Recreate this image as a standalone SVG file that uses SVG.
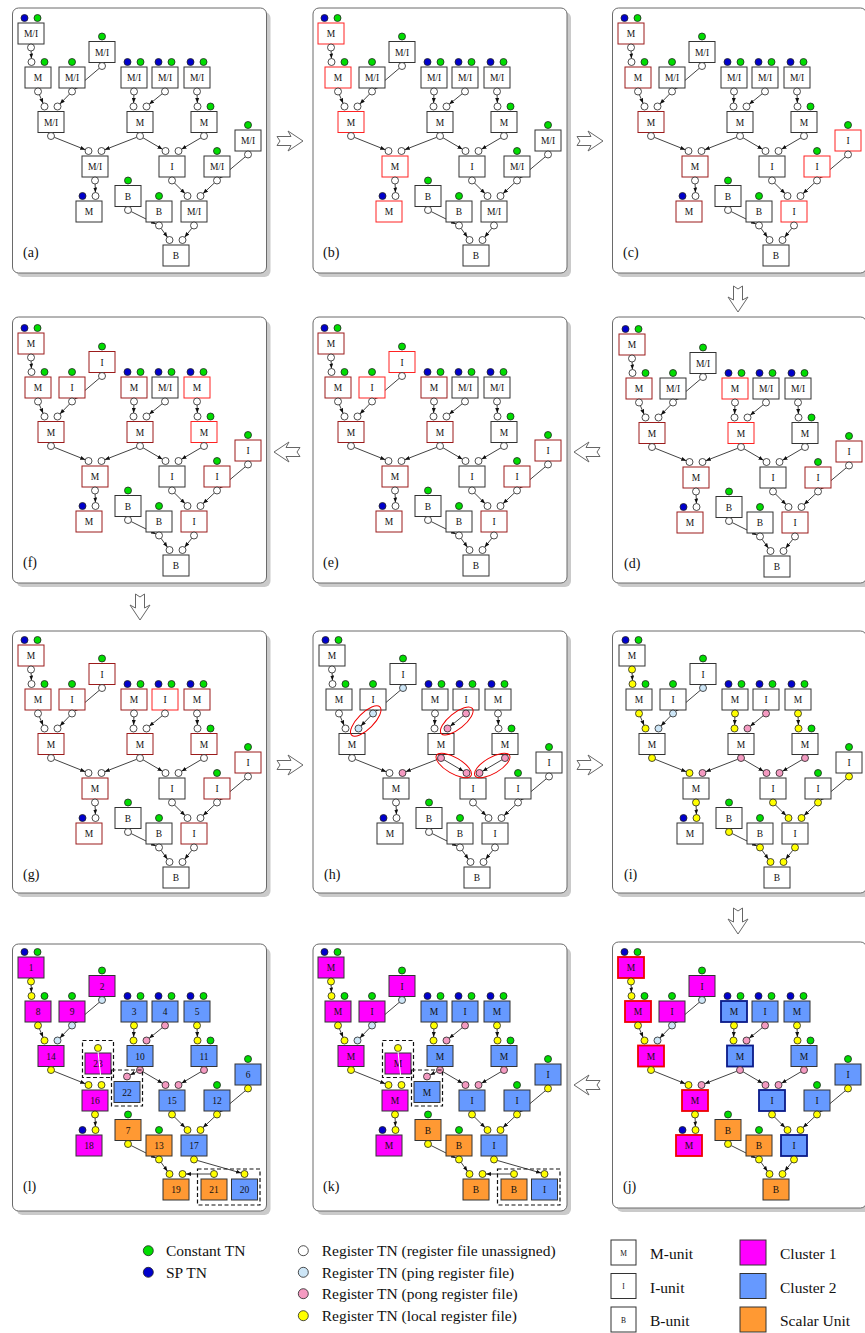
<svg xmlns="http://www.w3.org/2000/svg" width="865" height="1333" viewBox="0 0 865 1333">
<style>
text{font-family:"Liberation Serif","Times New Roman",serif;fill:#111}
.P{fill:#fff;stroke:#6a6a6a;stroke-width:1}
.S{fill:#cacaca}
.T text{font-size:9.5px;text-anchor:middle}
.T .lab{font-size:14px;text-anchor:start}
.T g rect{width:26px;height:21px;fill:#fff;stroke:#333;stroke-width:1}
.T circle{r:3.5px;fill:#fff;stroke:#222;stroke-width:.8}
.T .g{fill:#0d0}
.T .k{fill:#00c}
.T .y{fill:#ff0}
.T .p{fill:#f49ac1}
.T .b{fill:#cde6f7}
.T .r{stroke:#f22}
.T .d{stroke:#9b1b1b}
.T .R{stroke:#e00;stroke-width:1.8}
.T .D{stroke:#0b1a88;stroke-width:1.8}
.T .m{fill:#f0f}
.T .c{fill:#69f}
.T .s{fill:#f93}
.E line{stroke:#111;stroke-width:.8;marker-end:url(#ah)}
.dash{fill:none;stroke:#111;stroke-width:1.2;stroke-dasharray:4 2.5}
.ell{fill:none;stroke:#e00;stroke-width:1}
.arr{fill:#fff;stroke:#666;stroke-width:1;stroke-linejoin:round}
.lg{font-size:15.5px}
.lc{stroke:#222;stroke-width:.8}
</style>
<defs>
<marker id="ah" viewBox="0 0 5 4" refX="5" refY="2" markerWidth="5" markerHeight="4" markerUnits="userSpaceOnUse" orient="auto"><path d="M0,0L5,2L0,4z" fill="#111"/></marker>
<g id="Ec" class="E">
<line x1="19.12" y1="43" x2="19.38" y2="50.5"/>
<line x1="27.39" y1="86.71" x2="31.11" y2="95.29"/>
<line x1="87.33" y1="60.27" x2="62.67" y2="81.23"/>
<line x1="57.57" y1="86.02" x2="47.93" y2="95.98"/>
<line x1="121.88" y1="87" x2="121.62" y2="95"/>
<line x1="150.28" y1="85.7" x2="137.22" y2="96.3"/>
<line x1="185.12" y1="87" x2="185.38" y2="95"/>
<line x1="42.25" y1="129.3" x2="73.25" y2="141.7"/>
<line x1="131.02" y1="129.77" x2="150.48" y2="141.23"/>
<line x1="188.98" y1="129.77" x2="169.52" y2="141.23"/>
<line x1="233.32" y1="148.75" x2="207.68" y2="170.25"/>
<line x1="202.45" y1="174.9" x2="191.05" y2="185.6"/>
<line x1="83.11" y1="176" x2="83.39" y2="184.5"/>
<line x1="162.47" y1="174.97" x2="173.03" y2="185.53"/>
<line x1="119.13" y1="203.56" x2="143.87" y2="215.94"/>
<line x1="149.05" y1="220.33" x2="155.45" y2="229.17"/>
</g>
<g id="Ex" class="E">
<line x1="124.74" y1="129.27" x2="92.76" y2="141.73"/>
<line x1="179.83" y1="220.24" x2="172.67" y2="229.26"/>
</g>
<g id="Ey" class="E">
<line x1="124.87" y1="129.57" x2="118.13" y2="132.93"/>
<line x1="185.36" y1="218.47" x2="229.14" y2="231.03"/>
<line x1="198.5" y1="232" x2="174" y2="232"/>
</g>
<path id="arw" d="M-13,-4.5H1L-2,-10L13,0L-2,10L1,4.5H-13L-10,0Z"/>
</defs>

<g id="panels">
<rect class="S" x="16.5" y="12" width="254" height="265" rx="6"/><rect class="P" x="12.5" y="8" width="254" height="265" rx="6"/>
<rect class="S" x="317" y="12" width="254" height="265" rx="6"/><rect class="P" x="313" y="8" width="254" height="265" rx="6"/>
<rect class="S" x="616.5" y="12" width="254" height="265" rx="6"/><rect class="P" x="612.5" y="8" width="254" height="265" rx="6"/>
<rect class="S" x="16.5" y="321" width="254" height="266" rx="6"/><rect class="P" x="12.5" y="317" width="254" height="266" rx="6"/>
<rect class="S" x="317" y="321" width="254" height="266" rx="6"/><rect class="P" x="313" y="317" width="254" height="266" rx="6"/>
<rect class="S" x="616.5" y="321" width="254" height="266" rx="6"/><rect class="P" x="612.5" y="317" width="254" height="266" rx="6"/>
<rect class="S" x="16.5" y="635" width="254" height="262" rx="6"/><rect class="P" x="12.5" y="631" width="254" height="262" rx="6"/>
<rect class="S" x="317" y="635" width="254" height="262" rx="6"/><rect class="P" x="313" y="631" width="254" height="262" rx="6"/>
<rect class="S" x="616.5" y="635" width="254" height="262" rx="6"/><rect class="P" x="612.5" y="631" width="254" height="262" rx="6"/>
<rect class="S" x="16.5" y="948" width="254" height="267" rx="6"/><rect class="P" x="12.5" y="944" width="254" height="267" rx="6"/>
<rect class="S" x="317" y="948" width="254" height="267" rx="6"/><rect class="P" x="313" y="944" width="254" height="267" rx="6"/>
<rect class="S" x="616.5" y="946" width="254" height="266" rx="6"/><rect class="P" x="612.5" y="942" width="254" height="266" rx="6"/>
</g>

<g id="arrows" class="arr">
<use href="#arw" transform="translate(290,141)"/>
<use href="#arw" transform="translate(590,141)"/>
<use href="#arw" transform="translate(738,299) rotate(90)"/>
<use href="#arw" transform="translate(587,452) rotate(180)"/>
<use href="#arw" transform="translate(287,452) rotate(180)"/>
<use href="#arw" transform="translate(140,607) rotate(90)"/>
<use href="#arw" transform="translate(290,765)"/>
<use href="#arw" transform="translate(590,765)"/>
<use href="#arw" transform="translate(738,921) rotate(90)"/>
<use href="#arw" transform="translate(587,1085) rotate(180)"/>
</g>

<!-- (a) -->
<g id="pa" class="T" transform="translate(12,8)">
<g id="a-conn"><use href="#Ec"/><use href="#Ex"/></g>
<g id="a1" transform="translate(6,15)"><rect/><text x="13" y="14">M/I</text><circle class="k" cx="6.5" cy="-5"/><circle class="g" cx="19.5" cy="-5"/><circle cx="13" cy="24.5"/></g>
<g id="a2" transform="translate(13,59)"><rect/><text x="13" y="14">M</text><circle cx="6.5" cy="-5"/><circle class="g" cx="19.5" cy="-5"/><circle cx="13" cy="24.5"/></g>
<g id="a3" transform="translate(47,59)"><rect/><text x="13" y="14">M/I</text><circle class="g" cx="13" cy="-5"/><circle cx="13" cy="24.5"/></g>
<g id="a4" transform="translate(77,33.5)"><rect/><text x="13" y="14">M/I</text><circle class="g" cx="13" cy="-5"/><circle cx="13" cy="24.5"/></g>
<g id="a5" transform="translate(109,59)"><rect/><text x="13" y="14">M/I</text><circle class="k" cx="6.5" cy="-5"/><circle class="g" cx="19.5" cy="-5"/><circle cx="13" cy="24.5"/></g>
<g id="a6" transform="translate(140,59)"><rect/><text x="13" y="14">M/I</text><circle class="k" cx="6.5" cy="-5"/><circle class="g" cx="19.5" cy="-5"/><circle cx="13" cy="24.5"/></g>
<g id="a7" transform="translate(172,59)"><rect/><text x="13" y="14">M/I</text><circle class="k" cx="6.5" cy="-5"/><circle class="g" cx="19.5" cy="-5"/><circle cx="13" cy="24.5"/></g>
<g id="a8" transform="translate(26,103.5)"><rect/><text x="13" y="14">M/I</text><circle cx="6.5" cy="-5"/><circle cx="19.5" cy="-5"/><circle cx="13" cy="24.5"/></g>
<g id="a9" transform="translate(115,103.5)"><rect/><text x="13" y="14">M</text><circle cx="6.5" cy="-5"/><circle cx="19.5" cy="-5"/><circle cx="13" cy="24.5"/></g>
<g id="a10" transform="translate(179,103.5)"><rect/><text x="13" y="14">M</text><circle cx="6.5" cy="-5"/><circle class="g" cx="19.5" cy="-5"/><circle cx="13" cy="24.5"/></g>
<g id="a11" transform="translate(223,122)"><rect/><text x="13" y="14">M/I</text><circle class="g" cx="13" cy="-5"/><circle cx="13" cy="24.5"/></g>
<g id="a12" transform="translate(70,148)"><rect/><text x="13" y="14">M/I</text><circle cx="6.5" cy="-5"/><circle cx="19.5" cy="-5"/><circle cx="13" cy="24.5"/></g>
<g id="a13" transform="translate(147,148)"><rect/><text x="13" y="14">I</text><circle cx="6.5" cy="-5"/><circle cx="19.5" cy="-5"/><circle cx="13" cy="24.5"/></g>
<g id="a14" transform="translate(192,148)"><rect/><text x="13" y="14">M/I</text><circle class="g" cx="13" cy="-5"/><circle cx="13" cy="24.5"/></g>
<g id="a15" transform="translate(64,193)"><rect/><text x="13" y="14">M</text><circle class="k" cx="6.5" cy="-5"/><circle cx="19.5" cy="-5"/></g>
<g id="a16" transform="translate(103,177.5)"><rect/><text x="13" y="14">B</text><circle class="g" cx="13" cy="-5"/><circle cx="13" cy="24.5"/></g>
<g id="a17" transform="translate(134,193)"><rect/><text x="13" y="14">B</text><circle class="g" cx="13" cy="-5"/><circle cx="13" cy="24.5"/></g>
<g id="a18" transform="translate(169,193)"><rect/><text x="13" y="14">M/I</text><circle cx="6.5" cy="-5"/><circle cx="19.5" cy="-5"/><circle cx="13" cy="24.5"/></g>
<g id="a19" transform="translate(151,237)"><rect/><text x="13" y="14">B</text><circle cx="6.5" cy="-5"/><circle cx="19.5" cy="-5"/></g>
<text class="lab" x="11" y="249">(a)</text>
</g>

<!-- (b) -->
<g id="pb" class="T" transform="translate(312,8)">
<g id="b-conn"><use href="#Ec"/><use href="#Ex"/></g>
<g id="b1" transform="translate(6,15)"><rect class="r"/><text x="13" y="14">M</text><circle class="k" cx="6.5" cy="-5"/><circle class="g" cx="19.5" cy="-5"/><circle cx="13" cy="24.5"/></g>
<g id="b2" transform="translate(13,59)"><rect class="r"/><text x="13" y="14">M</text><circle cx="6.5" cy="-5"/><circle class="g" cx="19.5" cy="-5"/><circle cx="13" cy="24.5"/></g>
<g id="b3" transform="translate(47,59)"><rect/><text x="13" y="14">M/I</text><circle class="g" cx="13" cy="-5"/><circle cx="13" cy="24.5"/></g>
<g id="b4" transform="translate(77,33.5)"><rect/><text x="13" y="14">M/I</text><circle class="g" cx="13" cy="-5"/><circle cx="13" cy="24.5"/></g>
<g id="b5" transform="translate(109,59)"><rect/><text x="13" y="14">M/I</text><circle class="k" cx="6.5" cy="-5"/><circle class="g" cx="19.5" cy="-5"/><circle cx="13" cy="24.5"/></g>
<g id="b6" transform="translate(140,59)"><rect/><text x="13" y="14">M/I</text><circle class="k" cx="6.5" cy="-5"/><circle class="g" cx="19.5" cy="-5"/><circle cx="13" cy="24.5"/></g>
<g id="b7" transform="translate(172,59)"><rect/><text x="13" y="14">M/I</text><circle class="k" cx="6.5" cy="-5"/><circle class="g" cx="19.5" cy="-5"/><circle cx="13" cy="24.5"/></g>
<g id="b8" transform="translate(26,103.5)"><rect class="r"/><text x="13" y="14">M</text><circle cx="6.5" cy="-5"/><circle cx="19.5" cy="-5"/><circle cx="13" cy="24.5"/></g>
<g id="b9" transform="translate(115,103.5)"><rect/><text x="13" y="14">M</text><circle cx="6.5" cy="-5"/><circle cx="19.5" cy="-5"/><circle cx="13" cy="24.5"/></g>
<g id="b10" transform="translate(179,103.5)"><rect/><text x="13" y="14">M</text><circle cx="6.5" cy="-5"/><circle class="g" cx="19.5" cy="-5"/><circle cx="13" cy="24.5"/></g>
<g id="b11" transform="translate(223,122)"><rect/><text x="13" y="14">M/I</text><circle class="g" cx="13" cy="-5"/><circle cx="13" cy="24.5"/></g>
<g id="b12" transform="translate(70,148)"><rect class="r"/><text x="13" y="14">M</text><circle cx="6.5" cy="-5"/><circle cx="19.5" cy="-5"/><circle cx="13" cy="24.5"/></g>
<g id="b13" transform="translate(147,148)"><rect/><text x="13" y="14">I</text><circle cx="6.5" cy="-5"/><circle cx="19.5" cy="-5"/><circle cx="13" cy="24.5"/></g>
<g id="b14" transform="translate(192,148)"><rect/><text x="13" y="14">M/I</text><circle class="g" cx="13" cy="-5"/><circle cx="13" cy="24.5"/></g>
<g id="b15" transform="translate(64,193)"><rect class="r"/><text x="13" y="14">M</text><circle class="k" cx="6.5" cy="-5"/><circle cx="19.5" cy="-5"/></g>
<g id="b16" transform="translate(103,177.5)"><rect/><text x="13" y="14">B</text><circle class="g" cx="13" cy="-5"/><circle cx="13" cy="24.5"/></g>
<g id="b17" transform="translate(134,193)"><rect/><text x="13" y="14">B</text><circle class="g" cx="13" cy="-5"/><circle cx="13" cy="24.5"/></g>
<g id="b18" transform="translate(169,193)"><rect/><text x="13" y="14">M/I</text><circle cx="6.5" cy="-5"/><circle cx="19.5" cy="-5"/><circle cx="13" cy="24.5"/></g>
<g id="b19" transform="translate(151,237)"><rect/><text x="13" y="14">B</text><circle cx="6.5" cy="-5"/><circle cx="19.5" cy="-5"/></g>
<text class="lab" x="11" y="249">(b)</text>
</g>

<!-- (c) -->
<g id="pc" class="T" transform="translate(612,8)">
<g id="c-conn"><use href="#Ec"/><use href="#Ex"/></g>
<g id="c1" transform="translate(6,15)"><rect class="d"/><text x="13" y="14">M</text><circle class="k" cx="6.5" cy="-5"/><circle class="g" cx="19.5" cy="-5"/><circle cx="13" cy="24.5"/></g>
<g id="c2" transform="translate(13,59)"><rect class="d"/><text x="13" y="14">M</text><circle cx="6.5" cy="-5"/><circle class="g" cx="19.5" cy="-5"/><circle cx="13" cy="24.5"/></g>
<g id="c3" transform="translate(47,59)"><rect/><text x="13" y="14">M/I</text><circle class="g" cx="13" cy="-5"/><circle cx="13" cy="24.5"/></g>
<g id="c4" transform="translate(77,33.5)"><rect/><text x="13" y="14">M/I</text><circle class="g" cx="13" cy="-5"/><circle cx="13" cy="24.5"/></g>
<g id="c5" transform="translate(109,59)"><rect/><text x="13" y="14">M/I</text><circle class="k" cx="6.5" cy="-5"/><circle class="g" cx="19.5" cy="-5"/><circle cx="13" cy="24.5"/></g>
<g id="c6" transform="translate(140,59)"><rect/><text x="13" y="14">M/I</text><circle class="k" cx="6.5" cy="-5"/><circle class="g" cx="19.5" cy="-5"/><circle cx="13" cy="24.5"/></g>
<g id="c7" transform="translate(172,59)"><rect/><text x="13" y="14">M/I</text><circle class="k" cx="6.5" cy="-5"/><circle class="g" cx="19.5" cy="-5"/><circle cx="13" cy="24.5"/></g>
<g id="c8" transform="translate(26,103.5)"><rect class="d"/><text x="13" y="14">M</text><circle cx="6.5" cy="-5"/><circle cx="19.5" cy="-5"/><circle cx="13" cy="24.5"/></g>
<g id="c9" transform="translate(115,103.5)"><rect/><text x="13" y="14">M</text><circle cx="6.5" cy="-5"/><circle cx="19.5" cy="-5"/><circle cx="13" cy="24.5"/></g>
<g id="c10" transform="translate(179,103.5)"><rect/><text x="13" y="14">M</text><circle cx="6.5" cy="-5"/><circle class="g" cx="19.5" cy="-5"/><circle cx="13" cy="24.5"/></g>
<g id="c11" transform="translate(223,122)"><rect class="r"/><text x="13" y="14">I</text><circle class="g" cx="13" cy="-5"/><circle cx="13" cy="24.5"/></g>
<g id="c12" transform="translate(70,148)"><rect class="d"/><text x="13" y="14">M</text><circle cx="6.5" cy="-5"/><circle cx="19.5" cy="-5"/><circle cx="13" cy="24.5"/></g>
<g id="c13" transform="translate(147,148)"><rect/><text x="13" y="14">I</text><circle cx="6.5" cy="-5"/><circle cx="19.5" cy="-5"/><circle cx="13" cy="24.5"/></g>
<g id="c14" transform="translate(192,148)"><rect class="r"/><text x="13" y="14">I</text><circle class="g" cx="13" cy="-5"/><circle cx="13" cy="24.5"/></g>
<g id="c15" transform="translate(64,193)"><rect class="d"/><text x="13" y="14">M</text><circle class="k" cx="6.5" cy="-5"/><circle cx="19.5" cy="-5"/></g>
<g id="c16" transform="translate(103,177.5)"><rect/><text x="13" y="14">B</text><circle class="g" cx="13" cy="-5"/><circle cx="13" cy="24.5"/></g>
<g id="c17" transform="translate(134,193)"><rect/><text x="13" y="14">B</text><circle class="g" cx="13" cy="-5"/><circle cx="13" cy="24.5"/></g>
<g id="c18" transform="translate(169,193)"><rect class="r"/><text x="13" y="14">I</text><circle cx="6.5" cy="-5"/><circle cx="19.5" cy="-5"/><circle cx="13" cy="24.5"/></g>
<g id="c19" transform="translate(151,237)"><rect/><text x="13" y="14">B</text><circle cx="6.5" cy="-5"/><circle cx="19.5" cy="-5"/></g>
<text class="lab" x="11" y="249">(c)</text>
</g>

<!-- (d) -->
<g id="pd" class="T" transform="translate(613,319)">
<g id="d-conn"><use href="#Ec"/><use href="#Ex"/></g>
<g id="d1" transform="translate(6,15)"><rect class="d"/><text x="13" y="14">M</text><circle class="k" cx="6.5" cy="-5"/><circle class="g" cx="19.5" cy="-5"/><circle cx="13" cy="24.5"/></g>
<g id="d2" transform="translate(13,59)"><rect class="d"/><text x="13" y="14">M</text><circle cx="6.5" cy="-5"/><circle class="g" cx="19.5" cy="-5"/><circle cx="13" cy="24.5"/></g>
<g id="d3" transform="translate(47,59)"><rect/><text x="13" y="14">M/I</text><circle class="g" cx="13" cy="-5"/><circle cx="13" cy="24.5"/></g>
<g id="d4" transform="translate(77,33.5)"><rect/><text x="13" y="14">M/I</text><circle class="g" cx="13" cy="-5"/><circle cx="13" cy="24.5"/></g>
<g id="d5" transform="translate(109,59)"><rect class="r"/><text x="13" y="14">M</text><circle class="k" cx="6.5" cy="-5"/><circle class="g" cx="19.5" cy="-5"/><circle cx="13" cy="24.5"/></g>
<g id="d6" transform="translate(140,59)"><rect/><text x="13" y="14">M/I</text><circle class="k" cx="6.5" cy="-5"/><circle class="g" cx="19.5" cy="-5"/><circle cx="13" cy="24.5"/></g>
<g id="d7" transform="translate(172,59)"><rect/><text x="13" y="14">M/I</text><circle class="k" cx="6.5" cy="-5"/><circle class="g" cx="19.5" cy="-5"/><circle cx="13" cy="24.5"/></g>
<g id="d8" transform="translate(26,103.5)"><rect class="d"/><text x="13" y="14">M</text><circle cx="6.5" cy="-5"/><circle cx="19.5" cy="-5"/><circle cx="13" cy="24.5"/></g>
<g id="d9" transform="translate(115,103.5)"><rect class="r"/><text x="13" y="14">M</text><circle cx="6.5" cy="-5"/><circle cx="19.5" cy="-5"/><circle cx="13" cy="24.5"/></g>
<g id="d10" transform="translate(179,103.5)"><rect/><text x="13" y="14">M</text><circle cx="6.5" cy="-5"/><circle class="g" cx="19.5" cy="-5"/><circle cx="13" cy="24.5"/></g>
<g id="d11" transform="translate(223,122)"><rect class="d"/><text x="13" y="14">I</text><circle class="g" cx="13" cy="-5"/><circle cx="13" cy="24.5"/></g>
<g id="d12" transform="translate(70,148)"><rect class="d"/><text x="13" y="14">M</text><circle cx="6.5" cy="-5"/><circle cx="19.5" cy="-5"/><circle cx="13" cy="24.5"/></g>
<g id="d13" transform="translate(147,148)"><rect/><text x="13" y="14">I</text><circle cx="6.5" cy="-5"/><circle cx="19.5" cy="-5"/><circle cx="13" cy="24.5"/></g>
<g id="d14" transform="translate(192,148)"><rect class="d"/><text x="13" y="14">I</text><circle class="g" cx="13" cy="-5"/><circle cx="13" cy="24.5"/></g>
<g id="d15" transform="translate(64,193)"><rect class="d"/><text x="13" y="14">M</text><circle class="k" cx="6.5" cy="-5"/><circle cx="19.5" cy="-5"/></g>
<g id="d16" transform="translate(103,177.5)"><rect/><text x="13" y="14">B</text><circle class="g" cx="13" cy="-5"/><circle cx="13" cy="24.5"/></g>
<g id="d17" transform="translate(134,193)"><rect/><text x="13" y="14">B</text><circle class="g" cx="13" cy="-5"/><circle cx="13" cy="24.5"/></g>
<g id="d18" transform="translate(169,193)"><rect class="d"/><text x="13" y="14">I</text><circle cx="6.5" cy="-5"/><circle cx="19.5" cy="-5"/><circle cx="13" cy="24.5"/></g>
<g id="d19" transform="translate(151,237)"><rect/><text x="13" y="14">B</text><circle cx="6.5" cy="-5"/><circle cx="19.5" cy="-5"/></g>
<text class="lab" x="11" y="249">(d)</text>
</g>

<!-- (e) -->
<g id="pe" class="T" transform="translate(312,318)">
<g id="e-conn"><use href="#Ec"/><use href="#Ex"/></g>
<g id="e1" transform="translate(6,15)"><rect class="d"/><text x="13" y="14">M</text><circle class="k" cx="6.5" cy="-5"/><circle class="g" cx="19.5" cy="-5"/><circle cx="13" cy="24.5"/></g>
<g id="e2" transform="translate(13,59)"><rect class="d"/><text x="13" y="14">M</text><circle cx="6.5" cy="-5"/><circle class="g" cx="19.5" cy="-5"/><circle cx="13" cy="24.5"/></g>
<g id="e3" transform="translate(47,59)"><rect class="r"/><text x="13" y="14">I</text><circle class="g" cx="13" cy="-5"/><circle cx="13" cy="24.5"/></g>
<g id="e4" transform="translate(77,33.5)"><rect class="r"/><text x="13" y="14">I</text><circle class="g" cx="13" cy="-5"/><circle cx="13" cy="24.5"/></g>
<g id="e5" transform="translate(109,59)"><rect class="d"/><text x="13" y="14">M</text><circle class="k" cx="6.5" cy="-5"/><circle class="g" cx="19.5" cy="-5"/><circle cx="13" cy="24.5"/></g>
<g id="e6" transform="translate(140,59)"><rect/><text x="13" y="14">M/I</text><circle class="k" cx="6.5" cy="-5"/><circle class="g" cx="19.5" cy="-5"/><circle cx="13" cy="24.5"/></g>
<g id="e7" transform="translate(172,59)"><rect/><text x="13" y="14">M/I</text><circle class="k" cx="6.5" cy="-5"/><circle class="g" cx="19.5" cy="-5"/><circle cx="13" cy="24.5"/></g>
<g id="e8" transform="translate(26,103.5)"><rect class="d"/><text x="13" y="14">M</text><circle cx="6.5" cy="-5"/><circle cx="19.5" cy="-5"/><circle cx="13" cy="24.5"/></g>
<g id="e9" transform="translate(115,103.5)"><rect class="d"/><text x="13" y="14">M</text><circle cx="6.5" cy="-5"/><circle cx="19.5" cy="-5"/><circle cx="13" cy="24.5"/></g>
<g id="e10" transform="translate(179,103.5)"><rect/><text x="13" y="14">M</text><circle cx="6.5" cy="-5"/><circle class="g" cx="19.5" cy="-5"/><circle cx="13" cy="24.5"/></g>
<g id="e11" transform="translate(223,122)"><rect class="d"/><text x="13" y="14">I</text><circle class="g" cx="13" cy="-5"/><circle cx="13" cy="24.5"/></g>
<g id="e12" transform="translate(70,148)"><rect class="d"/><text x="13" y="14">M</text><circle cx="6.5" cy="-5"/><circle cx="19.5" cy="-5"/><circle cx="13" cy="24.5"/></g>
<g id="e13" transform="translate(147,148)"><rect/><text x="13" y="14">I</text><circle cx="6.5" cy="-5"/><circle cx="19.5" cy="-5"/><circle cx="13" cy="24.5"/></g>
<g id="e14" transform="translate(192,148)"><rect class="d"/><text x="13" y="14">I</text><circle class="g" cx="13" cy="-5"/><circle cx="13" cy="24.5"/></g>
<g id="e15" transform="translate(64,193)"><rect class="d"/><text x="13" y="14">M</text><circle class="k" cx="6.5" cy="-5"/><circle cx="19.5" cy="-5"/></g>
<g id="e16" transform="translate(103,177.5)"><rect/><text x="13" y="14">B</text><circle class="g" cx="13" cy="-5"/><circle cx="13" cy="24.5"/></g>
<g id="e17" transform="translate(134,193)"><rect/><text x="13" y="14">B</text><circle class="g" cx="13" cy="-5"/><circle cx="13" cy="24.5"/></g>
<g id="e18" transform="translate(169,193)"><rect class="d"/><text x="13" y="14">I</text><circle cx="6.5" cy="-5"/><circle cx="19.5" cy="-5"/><circle cx="13" cy="24.5"/></g>
<g id="e19" transform="translate(151,237)"><rect/><text x="13" y="14">B</text><circle cx="6.5" cy="-5"/><circle cx="19.5" cy="-5"/></g>
<text class="lab" x="11" y="249">(e)</text>
</g>

<!-- (f) -->
<g id="pf" class="T" transform="translate(12,318)">
<g id="f-conn"><use href="#Ec"/><use href="#Ex"/></g>
<g id="f1" transform="translate(6,15)"><rect class="d"/><text x="13" y="14">M</text><circle class="k" cx="6.5" cy="-5"/><circle class="g" cx="19.5" cy="-5"/><circle cx="13" cy="24.5"/></g>
<g id="f2" transform="translate(13,59)"><rect class="d"/><text x="13" y="14">M</text><circle cx="6.5" cy="-5"/><circle class="g" cx="19.5" cy="-5"/><circle cx="13" cy="24.5"/></g>
<g id="f3" transform="translate(47,59)"><rect class="d"/><text x="13" y="14">I</text><circle class="g" cx="13" cy="-5"/><circle cx="13" cy="24.5"/></g>
<g id="f4" transform="translate(77,33.5)"><rect class="d"/><text x="13" y="14">I</text><circle class="g" cx="13" cy="-5"/><circle cx="13" cy="24.5"/></g>
<g id="f5" transform="translate(109,59)"><rect class="d"/><text x="13" y="14">M</text><circle class="k" cx="6.5" cy="-5"/><circle class="g" cx="19.5" cy="-5"/><circle cx="13" cy="24.5"/></g>
<g id="f6" transform="translate(140,59)"><rect/><text x="13" y="14">M/I</text><circle class="k" cx="6.5" cy="-5"/><circle class="g" cx="19.5" cy="-5"/><circle cx="13" cy="24.5"/></g>
<g id="f7" transform="translate(172,59)"><rect class="r"/><text x="13" y="14">M</text><circle class="k" cx="6.5" cy="-5"/><circle class="g" cx="19.5" cy="-5"/><circle cx="13" cy="24.5"/></g>
<g id="f8" transform="translate(26,103.5)"><rect class="d"/><text x="13" y="14">M</text><circle cx="6.5" cy="-5"/><circle cx="19.5" cy="-5"/><circle cx="13" cy="24.5"/></g>
<g id="f9" transform="translate(115,103.5)"><rect class="d"/><text x="13" y="14">M</text><circle cx="6.5" cy="-5"/><circle cx="19.5" cy="-5"/><circle cx="13" cy="24.5"/></g>
<g id="f10" transform="translate(179,103.5)"><rect class="r"/><text x="13" y="14">M</text><circle cx="6.5" cy="-5"/><circle class="g" cx="19.5" cy="-5"/><circle cx="13" cy="24.5"/></g>
<g id="f11" transform="translate(223,122)"><rect class="d"/><text x="13" y="14">I</text><circle class="g" cx="13" cy="-5"/><circle cx="13" cy="24.5"/></g>
<g id="f12" transform="translate(70,148)"><rect class="d"/><text x="13" y="14">M</text><circle cx="6.5" cy="-5"/><circle cx="19.5" cy="-5"/><circle cx="13" cy="24.5"/></g>
<g id="f13" transform="translate(147,148)"><rect/><text x="13" y="14">I</text><circle cx="6.5" cy="-5"/><circle cx="19.5" cy="-5"/><circle cx="13" cy="24.5"/></g>
<g id="f14" transform="translate(192,148)"><rect class="d"/><text x="13" y="14">I</text><circle class="g" cx="13" cy="-5"/><circle cx="13" cy="24.5"/></g>
<g id="f15" transform="translate(64,193)"><rect class="d"/><text x="13" y="14">M</text><circle class="k" cx="6.5" cy="-5"/><circle cx="19.5" cy="-5"/></g>
<g id="f16" transform="translate(103,177.5)"><rect/><text x="13" y="14">B</text><circle class="g" cx="13" cy="-5"/><circle cx="13" cy="24.5"/></g>
<g id="f17" transform="translate(134,193)"><rect/><text x="13" y="14">B</text><circle class="g" cx="13" cy="-5"/><circle cx="13" cy="24.5"/></g>
<g id="f18" transform="translate(169,193)"><rect class="d"/><text x="13" y="14">I</text><circle cx="6.5" cy="-5"/><circle cx="19.5" cy="-5"/><circle cx="13" cy="24.5"/></g>
<g id="f19" transform="translate(151,237)"><rect/><text x="13" y="14">B</text><circle cx="6.5" cy="-5"/><circle cx="19.5" cy="-5"/></g>
<text class="lab" x="11" y="249">(f)</text>
</g>

<!-- (g) -->
<g id="pg" class="T" transform="translate(12,630)">
<g id="g-conn"><use href="#Ec"/><use href="#Ex"/></g>
<g id="g1" transform="translate(6,15)"><rect class="d"/><text x="13" y="14">M</text><circle class="k" cx="6.5" cy="-5"/><circle class="g" cx="19.5" cy="-5"/><circle cx="13" cy="24.5"/></g>
<g id="g2" transform="translate(13,59)"><rect class="d"/><text x="13" y="14">M</text><circle cx="6.5" cy="-5"/><circle class="g" cx="19.5" cy="-5"/><circle cx="13" cy="24.5"/></g>
<g id="g3" transform="translate(47,59)"><rect class="d"/><text x="13" y="14">I</text><circle class="g" cx="13" cy="-5"/><circle cx="13" cy="24.5"/></g>
<g id="g4" transform="translate(77,33.5)"><rect class="d"/><text x="13" y="14">I</text><circle class="g" cx="13" cy="-5"/><circle cx="13" cy="24.5"/></g>
<g id="g5" transform="translate(109,59)"><rect class="d"/><text x="13" y="14">M</text><circle class="k" cx="6.5" cy="-5"/><circle class="g" cx="19.5" cy="-5"/><circle cx="13" cy="24.5"/></g>
<g id="g6" transform="translate(140,59)"><rect class="r"/><text x="13" y="14">I</text><circle class="k" cx="6.5" cy="-5"/><circle class="g" cx="19.5" cy="-5"/><circle cx="13" cy="24.5"/></g>
<g id="g7" transform="translate(172,59)"><rect class="d"/><text x="13" y="14">M</text><circle class="k" cx="6.5" cy="-5"/><circle class="g" cx="19.5" cy="-5"/><circle cx="13" cy="24.5"/></g>
<g id="g8" transform="translate(26,103.5)"><rect class="d"/><text x="13" y="14">M</text><circle cx="6.5" cy="-5"/><circle cx="19.5" cy="-5"/><circle cx="13" cy="24.5"/></g>
<g id="g9" transform="translate(115,103.5)"><rect class="d"/><text x="13" y="14">M</text><circle cx="6.5" cy="-5"/><circle cx="19.5" cy="-5"/><circle cx="13" cy="24.5"/></g>
<g id="g10" transform="translate(179,103.5)"><rect class="d"/><text x="13" y="14">M</text><circle cx="6.5" cy="-5"/><circle class="g" cx="19.5" cy="-5"/><circle cx="13" cy="24.5"/></g>
<g id="g11" transform="translate(223,122)"><rect class="d"/><text x="13" y="14">I</text><circle class="g" cx="13" cy="-5"/><circle cx="13" cy="24.5"/></g>
<g id="g12" transform="translate(70,148)"><rect class="d"/><text x="13" y="14">M</text><circle cx="6.5" cy="-5"/><circle cx="19.5" cy="-5"/><circle cx="13" cy="24.5"/></g>
<g id="g13" transform="translate(147,148)"><rect/><text x="13" y="14">I</text><circle cx="6.5" cy="-5"/><circle cx="19.5" cy="-5"/><circle cx="13" cy="24.5"/></g>
<g id="g14" transform="translate(192,148)"><rect class="d"/><text x="13" y="14">I</text><circle class="g" cx="13" cy="-5"/><circle cx="13" cy="24.5"/></g>
<g id="g15" transform="translate(64,193)"><rect class="d"/><text x="13" y="14">M</text><circle class="k" cx="6.5" cy="-5"/><circle cx="19.5" cy="-5"/></g>
<g id="g16" transform="translate(103,177.5)"><rect/><text x="13" y="14">B</text><circle class="g" cx="13" cy="-5"/><circle cx="13" cy="24.5"/></g>
<g id="g17" transform="translate(134,193)"><rect/><text x="13" y="14">B</text><circle class="g" cx="13" cy="-5"/><circle cx="13" cy="24.5"/></g>
<g id="g18" transform="translate(169,193)"><rect class="d"/><text x="13" y="14">I</text><circle cx="6.5" cy="-5"/><circle cx="19.5" cy="-5"/><circle cx="13" cy="24.5"/></g>
<g id="g19" transform="translate(151,237)"><rect/><text x="13" y="14">B</text><circle cx="6.5" cy="-5"/><circle cx="19.5" cy="-5"/></g>
<text class="lab" x="11" y="249">(g)</text>
</g>

<!-- (h) -->
<g id="ph" class="T" transform="translate(313,630)">
<g id="h-conn"><use href="#Ec"/><use href="#Ex"/></g>
<g id="h1" transform="translate(6,15)"><rect/><text x="13" y="14">M</text><circle class="k" cx="6.5" cy="-5"/><circle class="g" cx="19.5" cy="-5"/><circle cx="13" cy="24.5"/></g>
<g id="h2" transform="translate(13,59)"><rect/><text x="13" y="14">M</text><circle cx="6.5" cy="-5"/><circle class="g" cx="19.5" cy="-5"/><circle cx="13" cy="24.5"/></g>
<g id="h3" transform="translate(47,59)"><rect/><text x="13" y="14">I</text><circle class="g" cx="13" cy="-5"/><circle class="b" cx="13" cy="24.5"/></g>
<g id="h4" transform="translate(77,33.5)"><rect/><text x="13" y="14">I</text><circle class="g" cx="13" cy="-5"/><circle class="b" cx="13" cy="24.5"/></g>
<g id="h5" transform="translate(109,59)"><rect/><text x="13" y="14">M</text><circle class="k" cx="6.5" cy="-5"/><circle class="g" cx="19.5" cy="-5"/><circle cx="13" cy="24.5"/></g>
<g id="h6" transform="translate(140,59)"><rect/><text x="13" y="14">I</text><circle class="k" cx="6.5" cy="-5"/><circle class="g" cx="19.5" cy="-5"/><circle class="p" cx="13" cy="24.5"/></g>
<g id="h7" transform="translate(172,59)"><rect/><text x="13" y="14">M</text><circle class="k" cx="6.5" cy="-5"/><circle class="g" cx="19.5" cy="-5"/><circle cx="13" cy="24.5"/></g>
<g id="h8" transform="translate(26,103.5)"><rect/><text x="13" y="14">M</text><circle cx="6.5" cy="-5"/><circle class="b" cx="19.5" cy="-5"/><circle cx="13" cy="24.5"/></g>
<g id="h9" transform="translate(115,103.5)"><rect/><text x="13" y="14">M</text><circle cx="6.5" cy="-5"/><circle class="p" cx="19.5" cy="-5"/><circle class="p" cx="13" cy="24.5"/></g>
<g id="h10" transform="translate(179,103.5)"><rect/><text x="13" y="14">M</text><circle cx="6.5" cy="-5"/><circle class="g" cx="19.5" cy="-5"/><circle class="p" cx="13" cy="24.5"/></g>
<g id="h11" transform="translate(223,122)"><rect/><text x="13" y="14">I</text><circle class="g" cx="13" cy="-5"/><circle cx="13" cy="24.5"/></g>
<g id="h12" transform="translate(70,148)"><rect/><text x="13" y="14">M</text><circle cx="6.5" cy="-5"/><circle class="p" cx="19.5" cy="-5"/><circle cx="13" cy="24.5"/></g>
<g id="h13" transform="translate(147,148)"><rect/><text x="13" y="14">I</text><circle class="p" cx="6.5" cy="-5"/><circle class="p" cx="19.5" cy="-5"/><circle cx="13" cy="24.5"/></g>
<g id="h14" transform="translate(192,148)"><rect/><text x="13" y="14">I</text><circle class="g" cx="13" cy="-5"/><circle cx="13" cy="24.5"/></g>
<g id="h15" transform="translate(64,193)"><rect/><text x="13" y="14">M</text><circle class="k" cx="6.5" cy="-5"/><circle cx="19.5" cy="-5"/></g>
<g id="h16" transform="translate(103,177.5)"><rect/><text x="13" y="14">B</text><circle class="g" cx="13" cy="-5"/><circle cx="13" cy="24.5"/></g>
<g id="h17" transform="translate(134,193)"><rect/><text x="13" y="14">B</text><circle class="g" cx="13" cy="-5"/><circle cx="13" cy="24.5"/></g>
<g id="h18" transform="translate(169,193)"><rect/><text x="13" y="14">I</text><circle cx="6.5" cy="-5"/><circle cx="19.5" cy="-5"/><circle cx="13" cy="24.5"/></g>
<g id="h19" transform="translate(151,237)"><rect/><text x="13" y="14">B</text><circle cx="6.5" cy="-5"/><circle cx="19.5" cy="-5"/></g>
<g id="h-marks">
<ellipse class="ell" cx="0" cy="0" rx="20" ry="8" transform="translate(52.75,91) rotate(-45)"/>
<ellipse class="ell" cx="0" cy="0" rx="20" ry="8" transform="translate(143.75,91) rotate(-39)"/>
<ellipse class="ell" cx="0" cy="0" rx="20" ry="8" transform="translate(140.75,135.5) rotate(30.5)"/>
<ellipse class="ell" cx="0" cy="0" rx="20" ry="8" transform="translate(179.25,135.5) rotate(-30.5)"/>
</g>
<text class="lab" x="11" y="249">(h)</text>
</g>

<!-- (i) -->
<g id="pi" class="T" transform="translate(613,630)">
<g id="i-conn"><use href="#Ec"/><use href="#Ex"/></g>
<g id="i1" transform="translate(6,15)"><rect/><text x="13" y="14">M</text><circle class="k" cx="6.5" cy="-5"/><circle class="g" cx="19.5" cy="-5"/><circle class="y" cx="13" cy="24.5"/></g>
<g id="i2" transform="translate(13,59)"><rect/><text x="13" y="14">M</text><circle class="y" cx="6.5" cy="-5"/><circle class="g" cx="19.5" cy="-5"/><circle class="y" cx="13" cy="24.5"/></g>
<g id="i3" transform="translate(47,59)"><rect/><text x="13" y="14">I</text><circle class="g" cx="13" cy="-5"/><circle class="b" cx="13" cy="24.5"/></g>
<g id="i4" transform="translate(77,33.5)"><rect/><text x="13" y="14">I</text><circle class="g" cx="13" cy="-5"/><circle class="b" cx="13" cy="24.5"/></g>
<g id="i5" transform="translate(109,59)"><rect/><text x="13" y="14">M</text><circle class="k" cx="6.5" cy="-5"/><circle class="g" cx="19.5" cy="-5"/><circle class="y" cx="13" cy="24.5"/></g>
<g id="i6" transform="translate(140,59)"><rect/><text x="13" y="14">I</text><circle class="k" cx="6.5" cy="-5"/><circle class="g" cx="19.5" cy="-5"/><circle class="p" cx="13" cy="24.5"/></g>
<g id="i7" transform="translate(172,59)"><rect/><text x="13" y="14">M</text><circle class="k" cx="6.5" cy="-5"/><circle class="g" cx="19.5" cy="-5"/><circle class="y" cx="13" cy="24.5"/></g>
<g id="i8" transform="translate(26,103.5)"><rect/><text x="13" y="14">M</text><circle class="y" cx="6.5" cy="-5"/><circle class="b" cx="19.5" cy="-5"/><circle class="y" cx="13" cy="24.5"/></g>
<g id="i9" transform="translate(115,103.5)"><rect/><text x="13" y="14">M</text><circle class="y" cx="6.5" cy="-5"/><circle class="p" cx="19.5" cy="-5"/><circle class="p" cx="13" cy="24.5"/></g>
<g id="i10" transform="translate(179,103.5)"><rect/><text x="13" y="14">M</text><circle class="y" cx="6.5" cy="-5"/><circle class="g" cx="19.5" cy="-5"/><circle class="p" cx="13" cy="24.5"/></g>
<g id="i11" transform="translate(223,122)"><rect/><text x="13" y="14">I</text><circle class="g" cx="13" cy="-5"/><circle class="y" cx="13" cy="24.5"/></g>
<g id="i12" transform="translate(70,148)"><rect/><text x="13" y="14">M</text><circle class="y" cx="6.5" cy="-5"/><circle class="p" cx="19.5" cy="-5"/><circle class="y" cx="13" cy="24.5"/></g>
<g id="i13" transform="translate(147,148)"><rect/><text x="13" y="14">I</text><circle class="p" cx="6.5" cy="-5"/><circle class="p" cx="19.5" cy="-5"/><circle class="y" cx="13" cy="24.5"/></g>
<g id="i14" transform="translate(192,148)"><rect/><text x="13" y="14">I</text><circle class="g" cx="13" cy="-5"/><circle class="y" cx="13" cy="24.5"/></g>
<g id="i15" transform="translate(64,193)"><rect/><text x="13" y="14">M</text><circle class="k" cx="6.5" cy="-5"/><circle class="y" cx="19.5" cy="-5"/></g>
<g id="i16" transform="translate(103,177.5)"><rect/><text x="13" y="14">B</text><circle class="g" cx="13" cy="-5"/><circle class="y" cx="13" cy="24.5"/></g>
<g id="i17" transform="translate(134,193)"><rect/><text x="13" y="14">B</text><circle class="g" cx="13" cy="-5"/><circle class="y" cx="13" cy="24.5"/></g>
<g id="i18" transform="translate(169,193)"><rect/><text x="13" y="14">I</text><circle class="y" cx="6.5" cy="-5"/><circle class="y" cx="19.5" cy="-5"/><circle class="y" cx="13" cy="24.5"/></g>
<g id="i19" transform="translate(151,237)"><rect/><text x="13" y="14">B</text><circle class="y" cx="6.5" cy="-5"/><circle class="y" cx="19.5" cy="-5"/></g>
<text class="lab" x="11" y="249">(i)</text>
</g>

<!-- (j) -->
<g id="pj" class="T" transform="translate(612,942)">
<g id="j-conn"><use href="#Ec"/><use href="#Ex"/></g>
<g id="j1" transform="translate(6,15)"><rect class="m R"/><text x="13" y="14">M</text><circle class="k" cx="6.5" cy="-5"/><circle class="g" cx="19.5" cy="-5"/><circle class="y" cx="13" cy="24.5"/></g>
<g id="j2" transform="translate(13,59)"><rect class="m R"/><text x="13" y="14">M</text><circle class="y" cx="6.5" cy="-5"/><circle class="g" cx="19.5" cy="-5"/><circle class="y" cx="13" cy="24.5"/></g>
<g id="j3" transform="translate(47,59)"><rect class="m"/><text x="13" y="14">I</text><circle class="g" cx="13" cy="-5"/><circle class="b" cx="13" cy="24.5"/></g>
<g id="j4" transform="translate(77,33.5)"><rect class="m"/><text x="13" y="14">I</text><circle class="g" cx="13" cy="-5"/><circle class="b" cx="13" cy="24.5"/></g>
<g id="j5" transform="translate(109,59)"><rect class="c D"/><text x="13" y="14">M</text><circle class="k" cx="6.5" cy="-5"/><circle class="g" cx="19.5" cy="-5"/><circle class="y" cx="13" cy="24.5"/></g>
<g id="j6" transform="translate(140,59)"><rect class="c"/><text x="13" y="14">I</text><circle class="k" cx="6.5" cy="-5"/><circle class="g" cx="19.5" cy="-5"/><circle class="p" cx="13" cy="24.5"/></g>
<g id="j7" transform="translate(172,59)"><rect class="c"/><text x="13" y="14">M</text><circle class="k" cx="6.5" cy="-5"/><circle class="g" cx="19.5" cy="-5"/><circle class="y" cx="13" cy="24.5"/></g>
<g id="j8" transform="translate(26,103.5)"><rect class="m R"/><text x="13" y="14">M</text><circle class="y" cx="6.5" cy="-5"/><circle class="b" cx="19.5" cy="-5"/><circle class="y" cx="13" cy="24.5"/></g>
<g id="j9" transform="translate(115,103.5)"><rect class="c D"/><text x="13" y="14">M</text><circle class="y" cx="6.5" cy="-5"/><circle class="p" cx="19.5" cy="-5"/><circle class="p" cx="13" cy="24.5"/></g>
<g id="j10" transform="translate(179,103.5)"><rect class="c"/><text x="13" y="14">M</text><circle class="y" cx="6.5" cy="-5"/><circle class="g" cx="19.5" cy="-5"/><circle class="p" cx="13" cy="24.5"/></g>
<g id="j11" transform="translate(223,122)"><rect class="c"/><text x="13" y="14">I</text><circle class="g" cx="13" cy="-5"/><circle class="y" cx="13" cy="24.5"/></g>
<g id="j12" transform="translate(70,148)"><rect class="m R"/><text x="13" y="14">M</text><circle class="y" cx="6.5" cy="-5"/><circle class="p" cx="19.5" cy="-5"/><circle class="y" cx="13" cy="24.5"/></g>
<g id="j13" transform="translate(147,148)"><rect class="c D"/><text x="13" y="14">I</text><circle class="p" cx="6.5" cy="-5"/><circle class="p" cx="19.5" cy="-5"/><circle class="y" cx="13" cy="24.5"/></g>
<g id="j14" transform="translate(192,148)"><rect class="c"/><text x="13" y="14">I</text><circle class="g" cx="13" cy="-5"/><circle class="y" cx="13" cy="24.5"/></g>
<g id="j15" transform="translate(64,193)"><rect class="m R"/><text x="13" y="14">M</text><circle class="k" cx="6.5" cy="-5"/><circle class="y" cx="19.5" cy="-5"/></g>
<g id="j16" transform="translate(103,177.5)"><rect class="s"/><text x="13" y="14">B</text><circle class="g" cx="13" cy="-5"/><circle class="y" cx="13" cy="24.5"/></g>
<g id="j17" transform="translate(134,193)"><rect class="s"/><text x="13" y="14">B</text><circle class="g" cx="13" cy="-5"/><circle class="y" cx="13" cy="24.5"/></g>
<g id="j18" transform="translate(169,193)"><rect class="c D"/><text x="13" y="14">I</text><circle class="y" cx="6.5" cy="-5"/><circle class="y" cx="19.5" cy="-5"/><circle class="y" cx="13" cy="24.5"/></g>
<g id="j19" transform="translate(151,237)"><rect class="s"/><text x="13" y="14">B</text><circle class="y" cx="6.5" cy="-5"/><circle class="y" cx="19.5" cy="-5"/></g>
<text class="lab" x="11" y="249">(j)</text>
</g>

<!-- (k) -->
<g id="pk" class="T" transform="translate(312,942)">
<g id="k-conn"><use href="#Ec"/><use href="#Ey"/></g>
<g id="k1" transform="translate(6,15)"><rect class="m"/><text x="13" y="14">M</text><circle class="k" cx="6.5" cy="-5"/><circle class="g" cx="19.5" cy="-5"/><circle class="y" cx="13" cy="24.5"/></g>
<g id="k2" transform="translate(13,59)"><rect class="m"/><text x="13" y="14">M</text><circle class="y" cx="6.5" cy="-5"/><circle class="g" cx="19.5" cy="-5"/><circle class="y" cx="13" cy="24.5"/></g>
<g id="k3" transform="translate(47,59)"><rect class="m"/><text x="13" y="14">I</text><circle class="g" cx="13" cy="-5"/><circle class="b" cx="13" cy="24.5"/></g>
<g id="k4" transform="translate(77,33.5)"><rect class="m"/><text x="13" y="14">I</text><circle class="g" cx="13" cy="-5"/><circle class="b" cx="13" cy="24.5"/></g>
<g id="k5" transform="translate(109,59)"><rect class="c"/><text x="13" y="14">M</text><circle class="k" cx="6.5" cy="-5"/><circle class="g" cx="19.5" cy="-5"/><circle class="y" cx="13" cy="24.5"/></g>
<g id="k6" transform="translate(140,59)"><rect class="c"/><text x="13" y="14">I</text><circle class="k" cx="6.5" cy="-5"/><circle class="g" cx="19.5" cy="-5"/><circle class="p" cx="13" cy="24.5"/></g>
<g id="k7" transform="translate(172,59)"><rect class="c"/><text x="13" y="14">M</text><circle class="k" cx="6.5" cy="-5"/><circle class="g" cx="19.5" cy="-5"/><circle class="y" cx="13" cy="24.5"/></g>
<g id="k8" transform="translate(26,103.5)"><rect class="m"/><text x="13" y="14">M</text><circle class="y" cx="6.5" cy="-5"/><circle class="b" cx="19.5" cy="-5"/><circle class="y" cx="13" cy="24.5"/></g>
<g id="k9" transform="translate(115,103.5)"><rect class="c"/><text x="13" y="14">M</text><circle class="y" cx="6.5" cy="-5"/><circle class="p" cx="19.5" cy="-5"/><circle class="p" cx="13" cy="24.5"/></g>
<g id="k10" transform="translate(179,103.5)"><rect class="c"/><text x="13" y="14">M</text><circle class="y" cx="6.5" cy="-5"/><circle class="g" cx="19.5" cy="-5"/><circle class="p" cx="13" cy="24.5"/></g>
<g id="k11" transform="translate(223,122)"><rect class="c"/><text x="13" y="14">I</text><circle class="g" cx="13" cy="-5"/><circle class="y" cx="13" cy="24.5"/></g>
<g id="k12" transform="translate(70,148)"><rect class="m"/><text x="13" y="14">M</text><circle class="y" cx="6.5" cy="-5"/><circle class="y" cx="19.5" cy="-5"/><circle class="y" cx="13" cy="24.5"/></g>
<g id="k13" transform="translate(147,148)"><rect class="c"/><text x="13" y="14">I</text><circle class="p" cx="6.5" cy="-5"/><circle class="p" cx="19.5" cy="-5"/><circle class="y" cx="13" cy="24.5"/></g>
<g id="k14" transform="translate(192,148)"><rect class="c"/><text x="13" y="14">I</text><circle class="g" cx="13" cy="-5"/><circle class="y" cx="13" cy="24.5"/></g>
<g id="k15" transform="translate(64,193)"><rect class="m"/><text x="13" y="14">M</text><circle class="k" cx="6.5" cy="-5"/><circle class="y" cx="19.5" cy="-5"/></g>
<g id="k16" transform="translate(103,177.5)"><rect class="s"/><text x="13" y="14">B</text><circle class="g" cx="13" cy="-5"/><circle class="y" cx="13" cy="24.5"/></g>
<g id="k17" transform="translate(134,193)"><rect class="s"/><text x="13" y="14">B</text><circle class="g" cx="13" cy="-5"/><circle class="y" cx="13" cy="24.5"/></g>
<g id="k18" transform="translate(169,193)"><rect class="c"/><text x="13" y="14">I</text><circle class="y" cx="6.5" cy="-5"/><circle class="y" cx="19.5" cy="-5"/><circle class="y" cx="13" cy="24.5"/></g>
<g id="k19" transform="translate(151,237)"><rect class="s"/><text x="13" y="14">B</text><circle class="y" cx="6.5" cy="-5"/><circle class="y" cx="19.5" cy="-5"/></g>
<g id="k20" transform="translate(73,111)"><rect class="m"/><text x="13" y="14">M</text><circle class="y" cx="13" cy="-5"/></g>
<g id="k21" transform="translate(102,139.5)"><rect class="c"/><text x="13" y="14">M</text><circle class="p" cx="13" cy="-5"/></g>
<g id="k22" transform="translate(189,237)"><rect class="s"/><text x="13" y="14">B</text><circle class="y" cx="13" cy="-5"/></g>
<g id="k23" transform="translate(219.5,237)"><rect class="c"/><text x="13" y="14">I</text><circle class="y" cx="13" cy="-5"/></g>
<line x1="86" y1="109.5" x2="89" y2="137" stroke="#fff" stroke-width="1"/>
<rect class="dash" x="70.5" y="98.5" width="31" height="37"/>
<rect class="dash" x="99.5" y="128" width="31" height="36"/>
<rect class="dash" x="185.5" y="227" width="62.5" height="36"/>
<text class="lab" x="11" y="249">(k)</text>
</g>

<!-- (l) -->
<g id="pl" class="T" transform="translate(12,942)">
<g id="l-conn"><use href="#Ec"/><use href="#Ey"/></g>
<g id="l1" transform="translate(6,15)"><rect class="m"/><text x="13" y="14">1</text><circle class="k" cx="6.5" cy="-5"/><circle class="g" cx="19.5" cy="-5"/><circle class="y" cx="13" cy="24.5"/></g>
<g id="l8" transform="translate(13,59)"><rect class="m"/><text x="13" y="14">8</text><circle class="y" cx="6.5" cy="-5"/><circle class="g" cx="19.5" cy="-5"/><circle class="y" cx="13" cy="24.5"/></g>
<g id="l9" transform="translate(47,59)"><rect class="m"/><text x="13" y="14">9</text><circle class="g" cx="13" cy="-5"/><circle class="b" cx="13" cy="24.5"/></g>
<g id="l2" transform="translate(77,33.5)"><rect class="m"/><text x="13" y="14">2</text><circle class="g" cx="13" cy="-5"/><circle class="b" cx="13" cy="24.5"/></g>
<g id="l3" transform="translate(109,59)"><rect class="c"/><text x="13" y="14">3</text><circle class="k" cx="6.5" cy="-5"/><circle class="g" cx="19.5" cy="-5"/><circle class="y" cx="13" cy="24.5"/></g>
<g id="l4" transform="translate(140,59)"><rect class="c"/><text x="13" y="14">4</text><circle class="k" cx="6.5" cy="-5"/><circle class="g" cx="19.5" cy="-5"/><circle class="p" cx="13" cy="24.5"/></g>
<g id="l5" transform="translate(172,59)"><rect class="c"/><text x="13" y="14">5</text><circle class="k" cx="6.5" cy="-5"/><circle class="g" cx="19.5" cy="-5"/><circle class="y" cx="13" cy="24.5"/></g>
<g id="l14" transform="translate(26,103.5)"><rect class="m"/><text x="13" y="14">14</text><circle class="y" cx="6.5" cy="-5"/><circle class="b" cx="19.5" cy="-5"/><circle class="y" cx="13" cy="24.5"/></g>
<g id="l10" transform="translate(115,103.5)"><rect class="c"/><text x="13" y="14">10</text><circle class="y" cx="6.5" cy="-5"/><circle class="p" cx="19.5" cy="-5"/><circle class="p" cx="13" cy="24.5"/></g>
<g id="l11" transform="translate(179,103.5)"><rect class="c"/><text x="13" y="14">11</text><circle class="y" cx="6.5" cy="-5"/><circle class="g" cx="19.5" cy="-5"/><circle class="p" cx="13" cy="24.5"/></g>
<g id="l6" transform="translate(223,122)"><rect class="c"/><text x="13" y="14">6</text><circle class="g" cx="13" cy="-5"/><circle class="y" cx="13" cy="24.5"/></g>
<g id="l16" transform="translate(70,148)"><rect class="m"/><text x="13" y="14">16</text><circle class="y" cx="6.5" cy="-5"/><circle class="y" cx="19.5" cy="-5"/><circle class="y" cx="13" cy="24.5"/></g>
<g id="l15" transform="translate(147,148)"><rect class="c"/><text x="13" y="14">15</text><circle class="p" cx="6.5" cy="-5"/><circle class="p" cx="19.5" cy="-5"/><circle class="y" cx="13" cy="24.5"/></g>
<g id="l12" transform="translate(192,148)"><rect class="c"/><text x="13" y="14">12</text><circle class="g" cx="13" cy="-5"/><circle class="y" cx="13" cy="24.5"/></g>
<g id="l18" transform="translate(64,193)"><rect class="m"/><text x="13" y="14">18</text><circle class="k" cx="6.5" cy="-5"/><circle class="y" cx="19.5" cy="-5"/></g>
<g id="l7" transform="translate(103,177.5)"><rect class="s"/><text x="13" y="14">7</text><circle class="g" cx="13" cy="-5"/><circle class="y" cx="13" cy="24.5"/></g>
<g id="l13" transform="translate(134,193)"><rect class="s"/><text x="13" y="14">13</text><circle class="g" cx="13" cy="-5"/><circle class="y" cx="13" cy="24.5"/></g>
<g id="l17" transform="translate(169,193)"><rect class="c"/><text x="13" y="14">17</text><circle class="y" cx="6.5" cy="-5"/><circle class="y" cx="19.5" cy="-5"/><circle class="y" cx="13" cy="24.5"/></g>
<g id="l19" transform="translate(151,237)"><rect class="s"/><text x="13" y="14">19</text><circle class="y" cx="6.5" cy="-5"/><circle class="y" cx="19.5" cy="-5"/></g>
<g id="l23" transform="translate(73,111)"><rect class="m"/><text x="13" y="14">23</text><circle class="y" cx="13" cy="-5"/></g>
<g id="l22" transform="translate(102,139.5)"><rect class="c"/><text x="13" y="14">22</text><circle class="p" cx="13" cy="-5"/></g>
<g id="l21" transform="translate(189,237)"><rect class="s"/><text x="13" y="14">21</text><circle class="y" cx="13" cy="-5"/></g>
<g id="l20" transform="translate(219.5,237)"><rect class="c"/><text x="13" y="14">20</text><circle class="y" cx="13" cy="-5"/></g>
<line x1="86" y1="109.5" x2="89" y2="137" stroke="#fff" stroke-width="1"/>
<rect class="dash" x="70.5" y="98.5" width="31" height="37"/>
<rect class="dash" x="99.5" y="128" width="31" height="36"/>
<rect class="dash" x="185.5" y="227" width="62.5" height="36"/>
<text class="lab" x="11" y="249">(l)</text>
</g>

<!-- legend -->
<g id="legend">
<circle class="lc" cx="148.3" cy="1250.7" r="5" fill="#0d0"/>
<text class="lg" x="166" y="1256">Constant TN</text>
<circle class="lc" cx="148.3" cy="1272.3" r="5" fill="#00c"/>
<text class="lg" x="166" y="1277.6">SP TN</text>
<circle class="lc" cx="303.3" cy="1250.7" r="5" fill="#fff"/>
<text class="lg" x="321.7" y="1256">Register TN (register file unassigned)</text>
<circle class="lc" cx="303.3" cy="1272.3" r="5" fill="#cde6f7"/>
<text class="lg" x="321.7" y="1277.6">Register TN (ping register file)</text>
<circle class="lc" cx="303.3" cy="1293.7" r="5" fill="#f49ac1"/>
<text class="lg" x="321.7" y="1299">Register TN (pong register file)</text>
<circle class="lc" cx="303.3" cy="1315.7" r="5" fill="#ff0"/>
<text class="lg" x="321.7" y="1321">Register TN (local register file)</text>
<rect x="611" y="1240" width="25" height="25" fill="#fff" stroke="#333"/>
<text x="623.5" y="1255.5" font-size="7.5" text-anchor="middle">M</text>
<text class="lg" x="650" y="1259.3">M-unit</text>
<rect x="611" y="1273.5" width="25" height="25" fill="#fff" stroke="#333"/>
<text x="623.5" y="1289" font-size="7.5" text-anchor="middle">I</text>
<text class="lg" x="650" y="1292.7">I-unit</text>
<rect x="611" y="1307" width="25" height="25" fill="#fff" stroke="#333"/>
<text x="623.5" y="1322.5" font-size="7.5" text-anchor="middle">B</text>
<text class="lg" x="650" y="1326">B-unit</text>
<rect x="740" y="1240" width="26" height="25" fill="#f0f" stroke="#333"/>
<text class="lg" x="780" y="1259.3">Cluster 1</text>
<rect x="740" y="1273.5" width="26" height="25" fill="#69f" stroke="#333"/>
<text class="lg" x="780" y="1292.7">Cluster 2</text>
<rect x="740" y="1307" width="26" height="25" fill="#f93" stroke="#333"/>
<text class="lg" x="780" y="1326">Scalar Unit</text>
</g>
</svg>
